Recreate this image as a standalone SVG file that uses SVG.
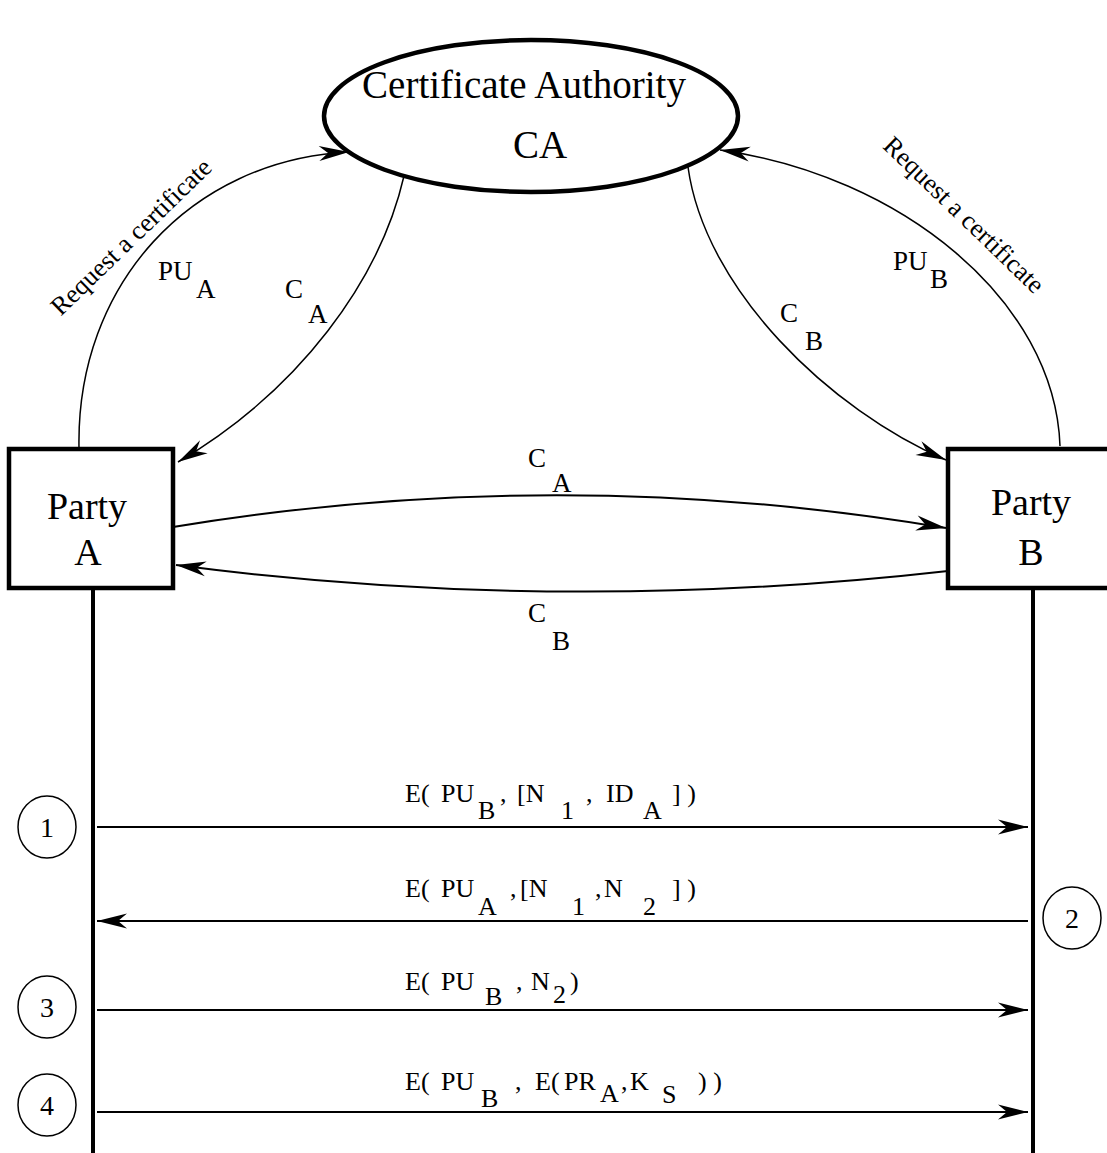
<svg xmlns="http://www.w3.org/2000/svg" width="1107" height="1153" viewBox="0 0 1107 1153" font-family="'Liberation Serif', 'Times New Roman', serif">
<defs>
<style>
text{font-family:"Liberation Serif","Times New Roman",serif;fill:#000}
.big{font-size:39px}
.party{font-size:38px}
.lbl{font-size:27px}
.req{font-size:26px}
.msg{font-size:26px}
.num{font-size:28px}
.node{fill:#fff;stroke:#000;stroke-width:4.5}
.thin{fill:none;stroke:#000;stroke-width:1.5}
.arr{fill:none;stroke:#000;stroke-width:2}
.life{fill:none;stroke:#000;stroke-width:4}
.circ{fill:#fff;stroke:#000;stroke-width:1.5}
</style>
<marker id="ah" viewBox="-32 -9 34 18" refX="0" refY="0" markerWidth="34" markerHeight="18" markerUnits="userSpaceOnUse" orient="auto">
<path d="M0,0 L-30,-7.5 L-21,0 L-30,7.5 Z" fill="#000"/>
</marker>
</defs>
<rect width="1107" height="1153" fill="#fff"/>

<g id="lifelines">
<line class="life" x1="93" y1="590" x2="93" y2="1153"/>
<line class="life" x1="1033" y1="590" x2="1033" y2="1153"/>
</g>

<g id="connectors">
<path class="thin" d="M79,448 C76,285 190,160 349,152" marker-end="url(#ah)"/>
<path class="thin" d="M404,176 C380,280 300,390 178,462" marker-end="url(#ah)"/>
<path class="thin" d="M688,167 C705,290 830,410 946,460" marker-end="url(#ah)"/>
<path class="thin" d="M1060,446 C1055,300 900,175 720,150" marker-end="url(#ah)"/>
<path class="arr" d="M173,527 Q560,463 946,528" marker-end="url(#ah)"/>
<path class="arr" d="M948,571 Q560,615 176,565" marker-end="url(#ah)"/>
<line class="arr" x1="97" y1="827" x2="1028" y2="827" marker-end="url(#ah)"/>
<line class="arr" x1="1028" y1="921" x2="97" y2="921" marker-end="url(#ah)"/>
<line class="arr" x1="97" y1="1010" x2="1028" y2="1010" marker-end="url(#ah)"/>
<line class="arr" x1="97" y1="1112" x2="1028" y2="1112" marker-end="url(#ah)"/>
</g>

<g id="ca">
<ellipse class="node" cx="531" cy="116" rx="207" ry="76"/>
<text class="big" x="524" y="98" text-anchor="middle">Certificate Authority</text>
<text class="big" x="540" y="158" text-anchor="middle">CA</text>
</g>

<g id="partyA">
<rect class="node" x="9" y="449" width="164" height="139"/>
<text class="party" x="87" y="519" text-anchor="middle">Party</text>
<text class="party" x="88" y="565" text-anchor="middle">A</text>
</g>

<g id="partyB">
<rect class="node" x="948" y="449" width="170" height="139"/>
<text class="party" x="1031" y="515" text-anchor="middle">Party</text>
<text class="party" x="1031" y="565" text-anchor="middle">B</text>
</g>

<g id="labels">
<text class="req" transform="translate(137,243) rotate(-44)" text-anchor="middle">Request a certificate</text>
<text class="req" transform="translate(958,221) rotate(44)" text-anchor="middle">Request a certificate</text>
<text class="lbl" x="158" y="280">PU</text><text class="lbl" x="196" y="298">A</text>
<text class="lbl" x="285" y="298">C</text><text class="lbl" x="308" y="323">A</text>
<text class="lbl" x="893" y="270">PU</text><text class="lbl" x="930" y="288">B</text>
<text class="lbl" x="780" y="322">C</text><text class="lbl" x="805" y="350">B</text>
<text class="lbl" x="528" y="467">C</text><text class="lbl" x="552" y="492">A</text>
<text class="lbl" x="528" y="622">C</text><text class="lbl" x="552" y="650">B</text>
</g>

<g id="msg1">
<text class="msg" x="405" y="802">E(</text>
<text class="msg" x="441" y="802">PU</text>
<text class="msg" x="478" y="819">B</text>
<text class="msg" x="500" y="802">,</text>
<text class="msg" x="517" y="802">[N</text>
<text class="msg" x="561" y="819">1</text>
<text class="msg" x="586" y="802">,</text>
<text class="msg" x="606" y="802">ID</text>
<text class="msg" x="643" y="819">A</text>
<text class="msg" x="672" y="802">] )</text>
</g>
<g id="msg2">
<text class="msg" x="405" y="897">E(</text>
<text class="msg" x="441" y="897">PU</text>
<text class="msg" x="478" y="915">A</text>
<text class="msg" x="510" y="897">,</text>
<text class="msg" x="520" y="897">[N</text>
<text class="msg" x="572" y="915">1</text>
<text class="msg" x="595" y="897">,</text>
<text class="msg" x="604" y="897">N</text>
<text class="msg" x="643" y="915">2</text>
<text class="msg" x="672" y="897">] )</text>
</g>
<g id="msg3">
<text class="msg" x="405" y="990">E(</text>
<text class="msg" x="441" y="990">PU</text>
<text class="msg" x="485" y="1005">B</text>
<text class="msg" x="516" y="990">,</text>
<text class="msg" x="531" y="990">N</text>
<text class="msg" x="553" y="1003">2</text>
<text class="msg" x="570" y="990">)</text>
</g>
<g id="msg4">
<text class="msg" x="405" y="1090">E(</text>
<text class="msg" x="441" y="1090">PU</text>
<text class="msg" x="481" y="1107">B</text>
<text class="msg" x="515" y="1090">,</text>
<text class="msg" x="535" y="1090">E(</text>
<text class="msg" x="564" y="1090">PR</text>
<text class="msg" x="600" y="1102">A</text>
<text class="msg" x="621" y="1090">,</text>
<text class="msg" x="630" y="1090">K</text>
<text class="msg" x="662" y="1103">S</text>
<text class="msg" x="698" y="1090">) )</text>
</g>

<g id="step1"><ellipse class="circ" cx="47" cy="827" rx="29" ry="31"/><text class="num" x="47" y="837" text-anchor="middle">1</text></g>
<g id="step2"><ellipse class="circ" cx="1072" cy="918" rx="29" ry="31"/><text class="num" x="1072" y="928" text-anchor="middle">2</text></g>
<g id="step3"><ellipse class="circ" cx="47" cy="1007" rx="29" ry="31"/><text class="num" x="47" y="1017" text-anchor="middle">3</text></g>
<g id="step4"><ellipse class="circ" cx="47" cy="1105" rx="29" ry="31"/><text class="num" x="47" y="1115" text-anchor="middle">4</text></g>
</svg>
